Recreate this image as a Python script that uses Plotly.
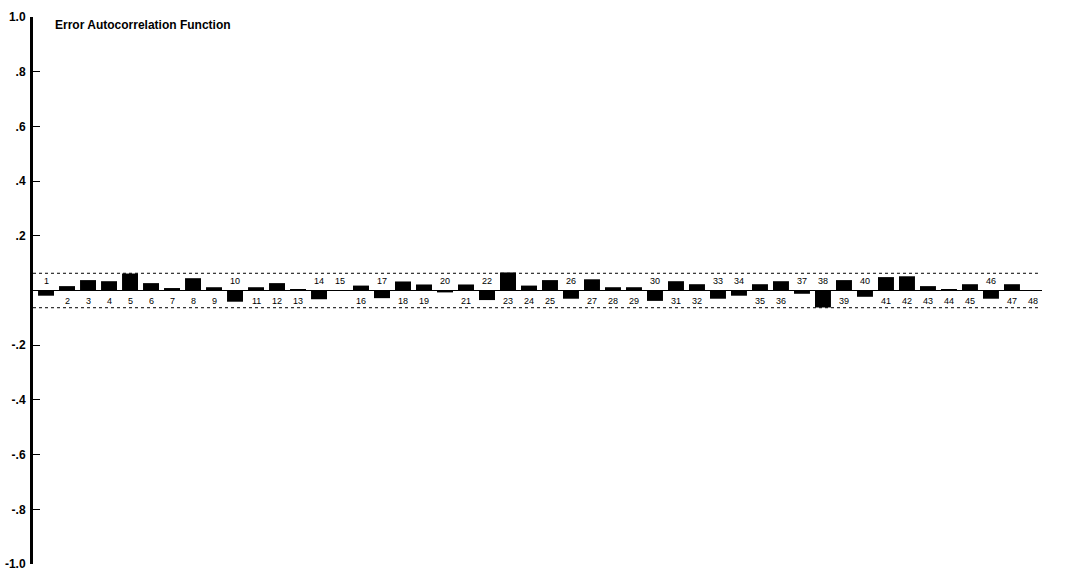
import plotly.graph_objects as go

lags = list(range(1, 49))
acf = [-0.019, 0.016, 0.038, 0.034, 0.062, 0.027, 0.009, 0.045, 0.012, -0.041,
       0.012, 0.027, 0.005, -0.032, -0.001, 0.018, -0.028, 0.033, 0.022, -0.007,
       0.022, -0.035, 0.066, 0.018, 0.038, -0.030, 0.041, 0.012, 0.012, -0.038,
       0.034, 0.023, -0.030, -0.019, 0.023, 0.034, -0.012, -0.062, 0.038, -0.023,
       0.049, 0.052, 0.016, 0.005, 0.023, -0.030, 0.023, 0.001]
conf_limit = 0.063
tick_vals = [1.0, 0.8, 0.6, 0.4, 0.2, -0.2, -0.4, -0.6, -0.8, -1.0]
tick_text = ["1.0", ".8", ".6", ".4", ".2", "-.2", "-.4", "-.6", "-.8", "-1.0"]
title_text = "Error Autocorrelation Function"

fig = go.Figure()
fig.add_trace(go.Bar(x=lags, y=acf, width=0.76, marker=dict(color="black", line=dict(width=0)),
                     hoverinfo="x+y"))

# zero line and confidence limits
fig.add_shape(type="line", xref="paper", x0=0, x1=1, yref="y", y0=0, y1=0,
              line=dict(color="black", width=1))
for s in (1, -1):
    fig.add_shape(type="line", xref="paper", x0=0, x1=0.996, yref="y",
                  y0=s * conf_limit, y1=s * conf_limit,
                  line=dict(color="black", width=1, dash="3px,3px"))

for lag, v in zip(lags, acf):
    fig.add_annotation(x=lag, y=0, text=str(lag), showarrow=False,
                       yshift=10 if v < 0 else -10,
                       font=dict(family="Liberation Sans, Arial", size=9, color="black"))

fig.add_annotation(xref="paper", yref="paper", x=0.0198, y=0.986, xanchor="left", yanchor="middle",
                   text=title_text, showarrow=False,
                   font=dict(family="Liberation Sans, Arial", size=12, color="black", weight="bold"))

fig.update_layout(
    width=1084, height=581,
    margin=dict(l=33, r=42, t=17, b=17),
    plot_bgcolor="white", paper_bgcolor="white",
    showlegend=False,
    xaxis=dict(visible=False, range=[0.38, 48.43], automargin=False),
    yaxis=dict(range=[-1, 1], tickvals=tick_vals, ticktext=tick_text, automargin=False,
               showline=True, linecolor="black", linewidth=3, mirror=False,
               ticks="inside", ticklen=7, tickwidth=1, tickcolor="black",
               showgrid=False, zeroline=False, ticklabelstandoff=2,
               tickfont=dict(family="Liberation Sans, Arial", size=12, color="black", weight="bold")),
)

fig.write_html("out.html")
